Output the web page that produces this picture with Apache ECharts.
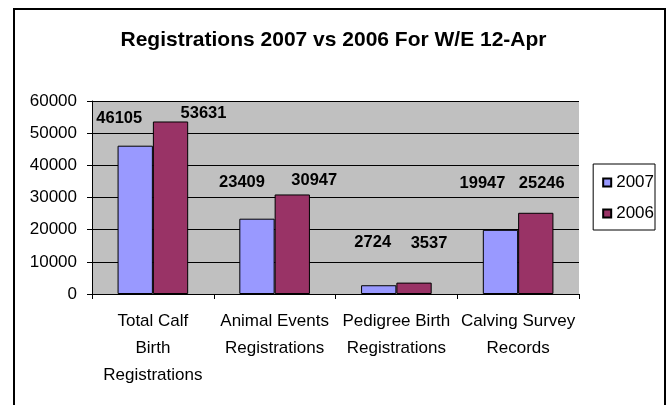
<!DOCTYPE html>
<html><head><meta charset="utf-8">
<script src="https://cdn.jsdelivr.net/npm/echarts@6/dist/echarts.min.js"></script>
<style>html,body{margin:0;padding:0;background:#fff}#c{width:667px;height:405px}</style>
</head><body><div id="c"></div>
<script>
const categories = ['Total Calf\nBirth\nRegistrations', 'Animal Events\nRegistrations', 'Pedigree Birth\nRegistrations', 'Calving Survey\nRecords'];
const series2007 = [46105, 23409, 2724, 19947];
const series2006 = [53631, 30947, 3537, 25246];
const yTicks = [0, 10000, 20000, 30000, 40000, 50000, 60000];
// label placement (styling only)
const off2007 = [[-16, -14], [-15, -23], [-6, -29], [-18, -33]];
const off2006 = [[33, 5], [22, -1], [15, -26], [6, -16]];

const chart = echarts.init(document.getElementById('c'));
const font = '"Liberation Sans", Arial, sans-serif';
function mk(vals, offs){
  return vals.map((v,i)=>({value:v, label:{offset:offs[i]}}));
}
chart.setOption({
  animation:false,
  textStyle:{fontFamily:font},
  graphic:[{type:'rect', shape:{x:14,y:9,width:651,height:400}, style:{fill:'none', stroke:'#000', lineWidth:2}, z:100}],
  title:{text:'Registrations 2007 vs 2006 For W/E 12-Apr', left:'center', top:30, padding:0,
    textStyle:{fontFamily:font, fontSize:21, fontWeight:'bold', color:'#000'}},
  grid:{left:92, right:88, top:101, bottom:111, show:true, backgroundColor:'#C0C0C0', borderWidth:0},
  legend:{right:12, top:164, orient:'vertical', itemWidth:8, itemHeight:8, itemGap:14,
    borderColor:'#000', borderWidth:1, padding:[10,1,8,9], backgroundColor:'#fff',
    textStyle:{fontFamily:font, fontSize:17, color:'#000', padding:[0,0,0,0]},
    data:[{name:'2007', icon:'rect'},{name:'2006', icon:'rect'}]},
  xAxis:{type:'category', data:categories,
    axisLine:{lineStyle:{color:'#000'}}, axisTick:{show:true, length:5, lineStyle:{color:'#000'}},
    axisLabel:{color:'#000', fontSize:17, lineHeight:27, margin:14, interval:0, fontFamily:font}},
  yAxis:{type:'value', min:yTicks[0], max:yTicks[yTicks.length-1], interval:yTicks[1]-yTicks[0],
    axisLine:{show:true, lineStyle:{color:'#000'}}, axisTick:{show:true, length:5, lineStyle:{color:'#000'}},
    splitLine:{lineStyle:{color:'#000'}},
    axisLabel:{color:'#000', fontSize:17, margin:15, fontFamily:font, formatter:v=>String(v)}},
  series:[
    {name:'2007', type:'bar', data:mk(series2007, off2007), barGap:'0%', barCategoryGap:'42%',
      itemStyle:{color:'#9999FF', borderColor:'#000', borderWidth:1},
      label:{show:true, position:'top', color:'#000', fontWeight:'bold', fontSize:16.5, fontFamily:font}},
    {name:'2006', type:'bar', data:mk(series2006, off2006),
      itemStyle:{color:'#993366', borderColor:'#000', borderWidth:1},
      label:{show:true, position:'top', color:'#000', fontWeight:'bold', fontSize:16.5, fontFamily:font}}
  ]
});
</script></body></html>
